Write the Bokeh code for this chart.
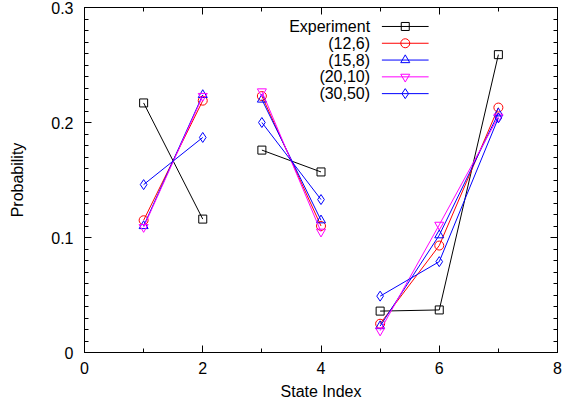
from bokeh.plotting import figure
from bokeh.models import Range1d, LinearAxis, FixedTicker
from bokeh.core.properties import value
from bokeh.embed import file_html
from bokeh.resources import INLINE

# State indices and probabilities per model
state_index = [1, 2, 3, 4, 5, 6, 7]
experiment = [0.217, 0.116, 0.176, 0.157, 0.036, 0.037, 0.259]
p_12_6 = [0.115, 0.219, 0.223, 0.110, 0.025, 0.093, 0.213]
p_15_8 = [0.110, 0.224, 0.220, 0.115, 0.023, 0.102, 0.208]
p_20_10 = [0.109, 0.223, 0.227, 0.105, 0.019, 0.111, 0.205]
p_30_50 = [0.146, 0.187, 0.200, 0.133, 0.049, 0.079, 0.204]

series_names = ["Experiment", "(12,6)", "(15,8)", "(20,10)", "(30,50)"]
series_values = [experiment, p_12_6, p_15_8, p_20_10, p_30_50]
series_colors = ["black", "red", "blue", "magenta", "blue"]
series_markers = ["square", "circle", "triangle", "inverted_triangle", "diamond"]
marker_sizes = [8, 9, 9, 9, 10]

# points are joined only within each group of states
groups = [(0, 2), (2, 4), (4, 7)]

x_ticks = [0, 2, 4, 6, 8]
y_ticks = [0, 0.1, 0.2, 0.3]
y_tick_labels = {0: "0", 0.1: "0.1", 0.2: "0.2", 0.3: "0.3"}
x_minor = list(range(0, 9))
y_minor = [i / 100 for i in range(31)]

FONT = "Liberation Sans"
FSIZE = "16px"

p = figure(width=562, height=408, output_backend="svg", toolbar_location=None,
           x_range=Range1d(0, 8), y_range=Range1d(0, 0.3),
           min_border_left=84, min_border_right=5, min_border_top=7,
           min_border_bottom=56, x_axis_label="State Index",
           y_axis_label="Probability")
p.grid.visible = False
p.outline_line_color = "black"
p.outline_line_width = 1
p.background_fill_color = "white"
p.border_fill_color = "white"

def style_axis(ax):
    ax.major_tick_in = 7
    ax.major_tick_out = 0
    ax.minor_tick_in = 4
    ax.minor_tick_out = 0
    ax.axis_line_color = "black"
    ax.major_tick_line_color = "black"
    ax.minor_tick_line_color = "black"
    ax.major_label_text_font = FONT
    ax.major_label_text_font_size = FSIZE
    ax.major_label_text_color = "black"
    ax.axis_label_text_font = FONT
    ax.axis_label_text_font_size = FSIZE
    ax.axis_label_text_font_style = "normal"
    ax.axis_label_text_color = "black"

xa = p.xaxis[0]
ya = p.yaxis[0]
xa.ticker = FixedTicker(ticks=x_ticks, minor_ticks=x_minor)
ya.ticker = FixedTicker(ticks=y_ticks, minor_ticks=y_minor)
ya.major_label_overrides = y_tick_labels
style_axis(xa)
style_axis(ya)
xa.major_label_standoff = 9
xa.axis_label_standoff = 6
ya.major_label_standoff = 11
ya.axis_label_standoff = 22

# mirrored tick marks along the top and right edges, without labels
for side, ticks, minor in (("above", x_ticks, x_minor), ("right", y_ticks, y_minor)):
    ax = LinearAxis(ticker=FixedTicker(ticks=ticks, minor_ticks=minor))
    style_axis(ax)
    ax.major_label_overrides = {t: "" for t in ticks}
    ax.major_label_standoff = 0
    p.add_layout(ax, side)

for vals, col, mk, sz in zip(series_values, series_colors, series_markers, marker_sizes):
    for a, b in groups:
        p.line(state_index[a:b], vals[a:b], line_color=col, line_width=1)
    p.scatter(state_index, vals, marker=mk, size=sz, line_color=col,
              fill_color=None, line_width=1)

# key: label on the left, sample line with marker on the right
key_text_x = 4.83
key_line_x0, key_line_x1 = 5.03, 5.82
key_y0, key_dy = 0.2835, 0.0146
for i, (name, col, mk, sz) in enumerate(zip(series_names, series_colors,
                                             series_markers, marker_sizes)):
    yy = key_y0 - i * key_dy
    p.text([key_text_x], [yy], text=[name], text_align="right", text_baseline="middle",
           text_font=value(FONT), text_font_size=FSIZE, text_color="black")
    p.segment([key_line_x0], [yy], [key_line_x1], [yy], line_color=col, line_width=1)
    p.scatter([(key_line_x0 + key_line_x1) / 2], [yy], marker=mk, size=sz,
              line_color=col, fill_color=None, line_width=1)

open("out.html", "w").write(file_html(p, INLINE))
